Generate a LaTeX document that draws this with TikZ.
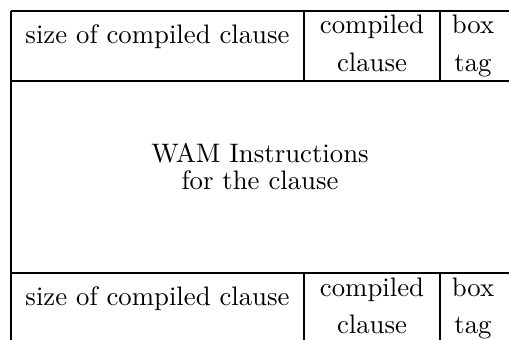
\documentclass[tikz,border=0pt]{standalone}
\begin{document}
\begin{tikzpicture}[x=0.4pt,y=-0.4pt,
  rule/.style={line width=1pt},
  txt/.style={anchor=base,inner sep=0pt,font=\fontsize{10.7}{13}\selectfont}]
\useasboundingbox (0,0) rectangle (509,340);
\clip (0,0) rectangle (509,340);
% grid coordinates
\coordinate (tl) at (11,11);
\coordinate (tr) at (515,11);
\coordinate (ml) at (11,81);
\coordinate (mr) at (515,81);
\coordinate (bl) at (11,273);
\coordinate (br) at (515,273);
\coordinate (ll) at (11,346);
\coordinate (d1t) at (304,11);
\coordinate (d1m) at (304,81);
\coordinate (d2t) at (440,11);
\coordinate (d2m) at (440,81);
\coordinate (d1b) at (304,273);
\coordinate (d1e) at (304,346);
\coordinate (d2b) at (440,273);
\coordinate (d2e) at (440,346);
% rules
\draw[rule] (tl) -- (tr);
\draw[rule] (ml) -- (mr);
\draw[rule] (bl) -- (br);
\draw[rule] (tl) -- (ll);
\draw[rule] (d1t) -- (d1m);
\draw[rule] (d2t) -- (d2m);
\draw[rule] (d1b) -- (d1e);
\draw[rule] (d2b) -- (d2e);
% top row
\node[txt] (size1) at (157.5,44) {size of compiled clause};
\node[txt] (comp1) at (372,34) {compiled};
\node[txt] (cla1) at (372,71) {clause};
\node[txt] (box1) at (473,34) {box};
\node[txt] (tag1) at (473,71) {tag};
% middle
\node[txt] (wam) at (260,163) {WAM Instructions};
\node[txt] (for) at (260,190) {for the clause};
% bottom row
\node[txt] (size2) at (157.5,306) {size of compiled clause};
\node[txt] (comp2) at (372,297) {compiled};
\node[txt] (cla2) at (372,334) {clause};
\node[txt] (box2) at (473,297) {box};
\node[txt] (tag2) at (473,334) {tag};
\end{tikzpicture}
\end{document}
